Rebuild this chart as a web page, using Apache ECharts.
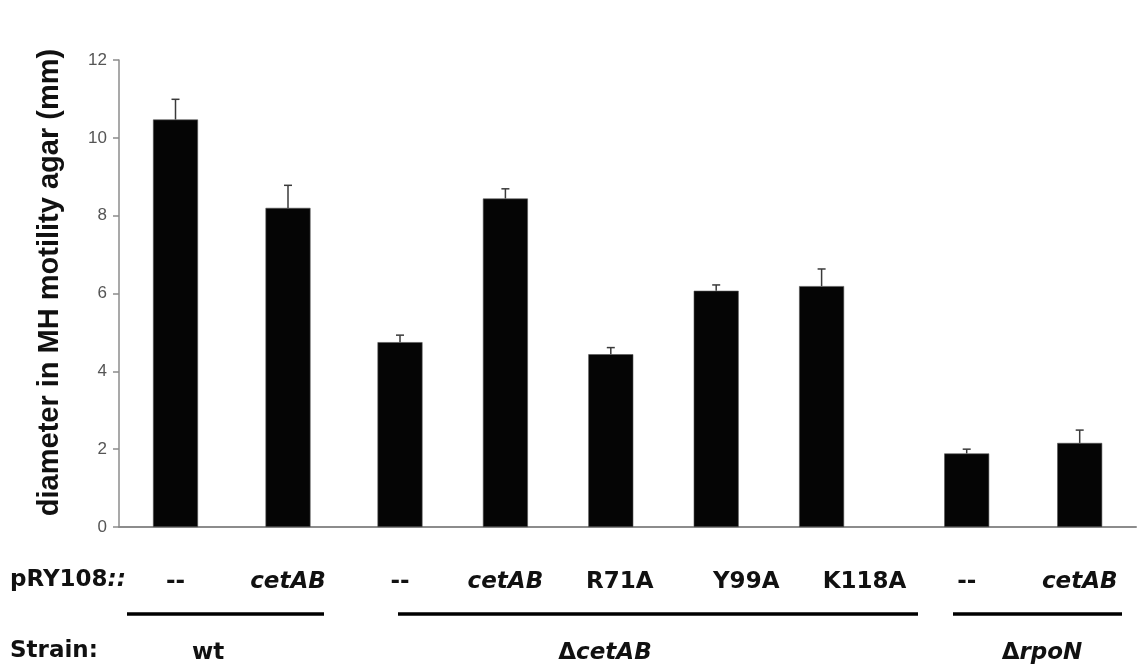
<!DOCTYPE html>
<html>
<head>
<meta charset="utf-8">
<title>Swimming motility of cetAB mutants</title>
<script src="https://cdn.jsdelivr.net/npm/echarts@6/dist/echarts.min.js"></script>
<style>
  html, body { margin: 0; padding: 0; background: #fff; }
  #chart { width: 1139px; height: 672px; }
</style>
</head>
<body>
<div id="chart"></div>
<script>
// Plasmid insert carried on pRY108 for each bar
const plasmids = ['--', 'cetAB', '--', 'cetAB', 'R71A', 'Y99A', 'K118A', '--', 'cetAB'];
// Strain backgrounds and how many bars belong to each
const strains = ['wt', 'ΔcetAB', 'ΔrpoN'];
const strainSizes = [2, 5, 2];
// Mean swim-zone diameter (mm) and its standard deviation
const diameters = [10.47, 8.20, 4.75, 8.44, 4.44, 6.07, 6.19, 1.89, 2.16];
const deviations = [0.52, 0.58, 0.18, 0.25, 0.17, 0.15, 0.44, 0.11, 0.33];
// Value axis range
const yMin = 0, yMax = 12, yStep = 2;

// ---- layout ----
const W = 1139, H = 672;
const PLOT_TOP = 60, PLOT_BOTTOM = 145;          // value axis spans y = 60 .. 527
const AXIS_X = 119, PLOT_RIGHT = 1136;
// horizontal extent of each strain block (bars are centred in equal slots inside)
const blockSpans = [[119.25, 344.25], [347.3, 874.3], [910.2, 1136.2]];
// small horizontal nudges for some insert labels
const labelNudge = { 'R71A': 9, 'Y99A': 30, 'K118A': 43 };
// bracket lines under each strain block and the strain label centres
const bracketSpans = [[127, 324], [398, 918], [953, 1122]];
const strainCentres = [208, 605, 1042];
const BRACKET_Y = 614, STRAIN_Y = 653, INSERT_Y = 582;

const labelFont = 'DejaVu Sans';
const labelSize = 23;

const chart = echarts.init(document.getElementById('chart'), null, { renderer: 'canvas' });

const grids = [{ left: AXIS_X, width: PLOT_RIGHT - AXIS_X, top: PLOT_TOP, bottom: PLOT_BOTTOM }];
const xAxes = [{
  gridIndex: 0, type: 'value', min: 0, max: 1,
  axisLine: { show: true, onZero: false, lineStyle: { color: '#8c8c8c', width: 2 } },
  axisTick: { show: false }, axisLabel: { show: false }, splitLine: { show: false }
}];
const yAxes = [{
  gridIndex: 0, type: 'value', min: yMin, max: yMax, interval: yStep,
  name: 'diameter in MH motility agar (mm)',
  nameLocation: 'middle', nameGap: 55,
  nameTextStyle: {
    fontFamily: 'Liberation Sans', fontWeight: 'bold', fontSize: 29, color: '#111',
    padding: [0, 0, 0, 22]
  },
  axisLine: { show: true, lineStyle: { color: '#8c8c8c', width: 1.5 } },
  axisTick: { show: true, inside: false, length: 6, lineStyle: { color: '#8c8c8c', width: 1.5 } },
  axisLabel: { fontFamily: 'Liberation Sans', fontSize: 17, color: '#555', margin: 12 },
  splitLine: { show: false }
}];
const series = [];

let start = 0;
strainSizes.forEach((n, g) => {
  const gi = g + 1;
  const span = blockSpans[g];
  grids.push({ left: span[0], width: span[1] - span[0], top: PLOT_TOP, bottom: PLOT_BOTTOM });

  const cats = plasmids.slice(start, start + n).map(name => {
    const item = { value: name, textStyle: {} };
    if (name === 'cetAB') item.textStyle.fontStyle = 'italic';
    if (labelNudge[name]) item.textStyle.padding = [0, 0, 0, 2 * labelNudge[name]];
    return item;
  });

  xAxes.push({
    gridIndex: gi, type: 'category', data: cats, boundaryGap: true,
    axisLine: { show: false }, axisTick: { show: false }, splitLine: { show: false },
    axisLabel: {
      interval: 0, margin: 44, color: '#111',
      fontFamily: labelFont, fontWeight: 'bold', fontSize: labelSize
    }
  });
  yAxes.push({
    gridIndex: gi, type: 'value', min: yMin, max: yMax, interval: yStep, show: false
  });

  const means = diameters.slice(start, start + n);
  const sds = deviations.slice(start, start + n);

  series.push({
    type: 'bar', xAxisIndex: gi, yAxisIndex: gi,
    data: means, barWidth: 45,
    itemStyle: { color: '#050505', borderColor: '#555', borderWidth: 0.6 },
    silent: true, z: 2
  });

  series.push({
    type: 'custom', xAxisIndex: gi, yAxisIndex: gi, z: 3, silent: true,
    data: means.map((m, i) => [i, m, m + sds[i]]),
    encode: { x: 0, y: [1, 2] },
    renderItem: (params, api) => {
      const idx = api.value(0);
      const base = api.coord([idx, api.value(1)]);
      const tip = api.coord([idx, api.value(2)]);
      const st = { stroke: '#3a3a3a', lineWidth: 1.5 };
      return {
        type: 'group',
        children: [
          { type: 'line', shape: { x1: base[0], y1: base[1], x2: tip[0], y2: tip[1] }, style: st },
          { type: 'line', shape: { x1: tip[0] - 4, y1: tip[1], x2: tip[0] + 4, y2: tip[1] }, style: st }
        ]
      };
    }
  });

  start += n;
});

// row captions, brackets and strain names below the bars
const graphic = [
  {
    type: 'text', left: 10, top: INSERT_Y - 13,
    style: {
      text: '{a|pRY108}{b|::}',
      rich: {
        a: { fontFamily: labelFont, fontWeight: 'bold', fontSize: labelSize, fill: '#111' },
        b: { fontFamily: labelFont, fontWeight: 'bold', fontStyle: 'italic', fontSize: labelSize, fill: '#111' }
      }
    }
  },
  {
    type: 'text', left: 10, top: STRAIN_Y - 13,
    style: { text: 'Strain:', fontFamily: labelFont, fontWeight: 'bold', fontSize: labelSize, fill: '#111' }
  }
];
bracketSpans.forEach(s => {
  graphic.push({
    type: 'line', shape: { x1: s[0], y1: BRACKET_Y, x2: s[1], y2: BRACKET_Y },
    style: { stroke: '#000', lineWidth: 3.5 }
  });
});
strains.forEach((name, i) => {
  const isDelta = name.charAt(0) === 'Δ';
  graphic.push({
    type: 'text', x: strainCentres[i], y: STRAIN_Y,
    style: {
      text: isDelta ? '{u|Δ}{i|' + name.slice(1) + '}' : '{u|' + name + '}',
      align: 'center', verticalAlign: 'middle',
      rich: {
        u: { fontFamily: labelFont, fontWeight: 'bold', fontSize: labelSize, fill: '#111' },
        i: { fontFamily: labelFont, fontWeight: 'bold', fontStyle: 'italic', fontSize: labelSize, fill: '#111' }
      }
    }
  });
});

chart.setOption({
  backgroundColor: '#fff',
  animation: false,
  grid: grids,
  xAxis: xAxes,
  yAxis: yAxes,
  series: series,
  graphic: graphic
});
</script>
</body>
</html>
